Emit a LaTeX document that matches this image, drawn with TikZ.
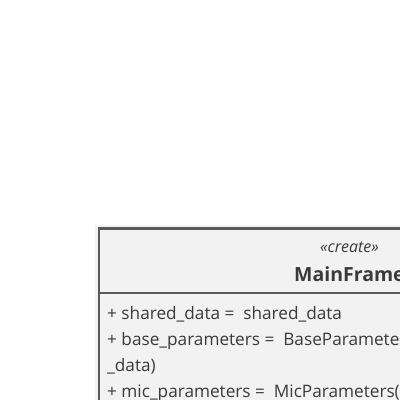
\documentclass[tikz,border=0pt]{standalone}
\usepackage{fontspec}
\setmainfont{Open Sans}
\begin{document}
\begin{tikzpicture}[x=1pt,y=-1pt,
  attr/.style={anchor=base west, inner sep=0pt, text=txtc, font=\fontsize{17.2}{20}\selectfont},
]
\definecolor{txtc}{HTML}{3A3A3A}
\definecolor{boxbg}{HTML}{F2F2F2}
\definecolor{boxline}{HTML}{595959}
\useasboundingbox (0,0) rectangle (400,400);
\clip (0,0) rectangle (400,400);
\fill[white] (0,0) rectangle (400,400);
% soft shadow
\draw[black!5, line width=3pt] (96,226) rectangle (420,420);
\fill[boxbg] (99,228.5) rectangle (420,420);
\draw[boxline, line width=2.6pt] (99,228.5) rectangle (420,420);
\draw[boxline, line width=2pt] (99,293) -- (420,293);
\node[anchor=base west, inner sep=0pt, text=txtc, font=\fontsize{16}{18}\selectfont\itshape] (stereo) at (320,252) {«create»};
\node[anchor=base west, inner sep=0pt, text=txtc, font=\fontsize{19.5}{22}\selectfont\bfseries] (name) at (294,281) {MainFrame};
\node[attr] (a1) at (107,319) {+ shared\_data =\ \ shared\_data};
\node[attr] (a2) at (107,345) {+ base\_parameters =\ \ BaseParameter};
\node[attr] (a3) at (107,371) {\_data)};
\node[attr] (a4) at (107,397) {+ mic\_parameters =\ \ MicParameters(};
\end{tikzpicture}
\end{document}
